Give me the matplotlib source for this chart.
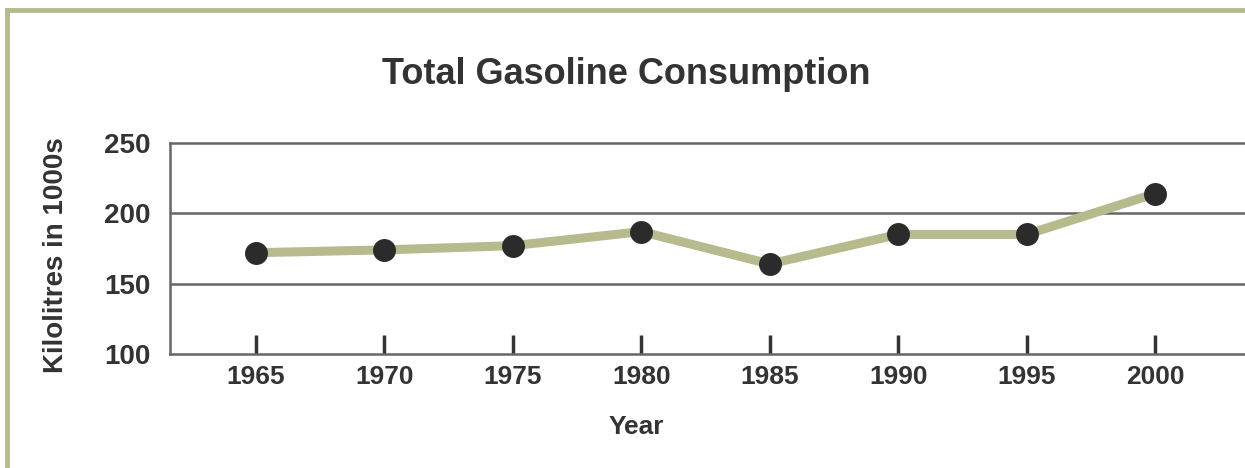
import matplotlib.pyplot as plt
from matplotlib.lines import Line2D

years = [1965, 1970, 1975, 1980, 1985, 1990, 1995, 2000]
consumption = [172, 174, 177, 187, 164, 185, 185, 214]
yticks = [100, 150, 200, 250]

font = ['Liberation Sans', 'DejaVu Sans']
dark = '#333333'
olive = '#b7ba8c'

fig = plt.figure(figsize=(12.45, 4.68), dpi=100)

# outer frame (top and left only visible)
fig.add_artist(Line2D([0.0056, 0.0056], [0, 0.979], transform=fig.transFigure, color=olive, lw=3.5))
fig.add_artist(Line2D([0.0056, 1.0], [0.979, 0.979], transform=fig.transFigure, color=olive, lw=3.5))

ax = fig.add_axes([0.1365, 0.2436, 0.8635, 0.4509])
ax.set_xlim(1961.65, 2003.5)
ax.set_ylim(100, 250)

for y in [150, 200]:
    ax.axhline(y, color='#666666', lw=1.8, zorder=1)

ax.plot(years, consumption, color=olive, lw=6.5, zorder=2)
ax.plot(years, consumption, 'o', color='#2b2b2b', markersize=15.5, zorder=3)

for s in ['left', 'bottom', 'top']:
    ax.spines[s].set_color('#666666')
    ax.spines[s].set_linewidth(1.8)
ax.spines['right'].set_visible(False)

ax.set_xticks(years)
ax.set_xticklabels([str(y) for y in years], family=font, fontweight='bold', fontsize=19, color=dark)
ax.set_yticks(yticks)
ax.set_yticklabels([str(y) for y in yticks], family=font, fontweight='bold', fontsize=20, color=dark)
ax.tick_params(axis='x', direction='in', length=14, width=2.5, color=dark, pad=8)
ax.tick_params(axis='y', length=0, pad=14)

ax.set_ylabel('Kilolitres in 1000s', family=font, fontweight='bold', fontsize=20, color=dark)
ax.yaxis.set_label_coords(-0.094, 0.47)

fig.text(0.511, 0.088, 'Year', family=font, fontweight='bold', fontsize=19, color=dark,
         ha='center', va='center')
fig.text(0.503, 0.84, 'Total Gasoline Consumption', family=font, fontweight='bold',
         fontsize=26, color=dark, ha='center', va='center')

fig.savefig('out.png', dpi=100)
